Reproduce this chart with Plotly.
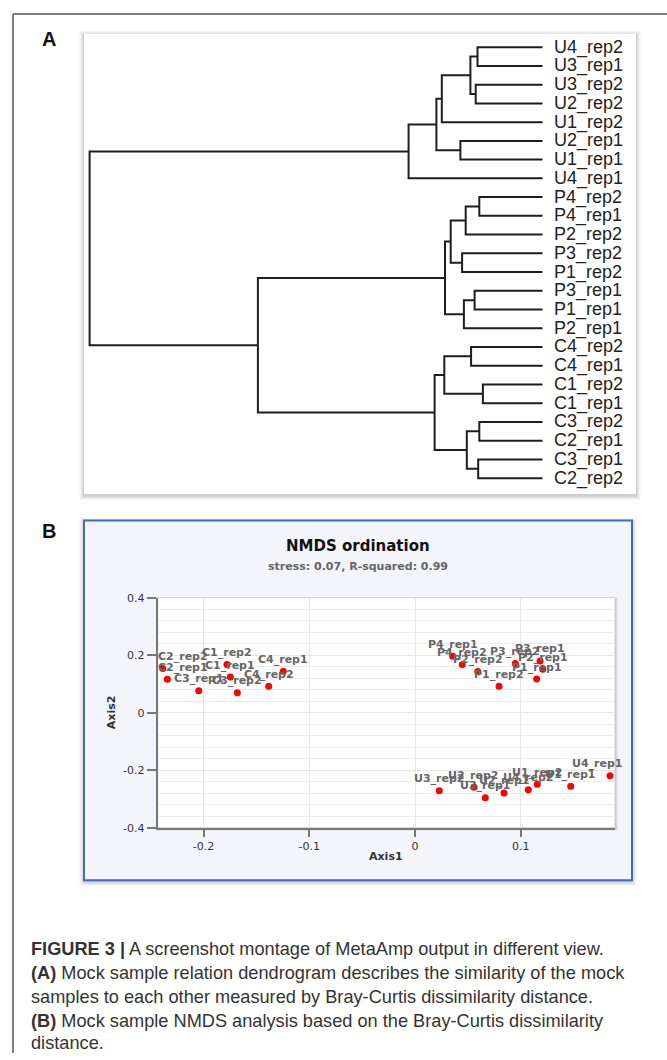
import plotly.graph_objects as go

# ---------------- Data ----------------
# Dendrogram (panel A): leaves top-to-bottom and merge steps (left child, right child, height)
leaf_order = ["U4_rep2", "U3_rep1", "U3_rep2", "U2_rep2", "U1_rep2", "U2_rep1", "U1_rep1", "U4_rep1",
              "P4_rep2", "P4_rep1", "P2_rep2", "P3_rep2", "P1_rep2", "P3_rep1", "P1_rep1", "P2_rep1",
              "C4_rep2", "C4_rep1", "C1_rep2", "C1_rep1", "C3_rep2", "C2_rep1", "C3_rep1", "C2_rep2"]
merge_left = ["U4_rep2", "U3_rep2", "m0", "m2", "U2_rep1", "m3", "m5",
              "P4_rep2", "m7", "P3_rep2", "m8", "P3_rep1", "m11", "m10",
              "C4_rep2", "C1_rep2", "m14", "C3_rep2", "C3_rep1", "m17", "m16",
              "m13", "m6"]
merge_right = ["U3_rep1", "U2_rep2", "m1", "U1_rep2", "U1_rep1", "m4", "U4_rep1",
               "P4_rep1", "P2_rep2", "P1_rep2", "m9", "P1_rep1", "P2_rep1", "m12",
               "C4_rep1", "C1_rep1", "m15", "C2_rep1", "C2_rep2", "m18", "m19",
               "m20", "m21"]
merge_height = [0.1435, 0.1475, 0.1592, 0.2223, 0.1813, 0.2343, 0.2957,
                0.1395, 0.1696, 0.1775, 0.2027, 0.1499, 0.1736, 0.2153,
                0.1577, 0.1316, 0.2168, 0.1395, 0.1420, 0.1671, 0.2382,
                0.6284, 1.0]

# NMDS (panel B)
nmds_samples = ["C2_rep2", "C2_rep1", "C3_rep1", "C1_rep2", "C1_rep1", "C3_rep2", "C4_rep2", "C4_rep1",
                "P4_rep1", "P4_rep2", "P2_rep2", "P1_rep2", "P3_rep2", "P3_rep1", "P2_rep1", "P1_rep1",
                "U3_rep2", "U2_rep2", "U3_rep1", "U2_rep1", "U4_rep2", "U1_rep2", "U1_rep1", "U4_rep1"]
nmds_axis1 = [-0.2387, -0.2343, -0.2046, -0.1779, -0.1747, -0.1681, -0.1384, -0.1246,
              0.0357, 0.0447, 0.0593, 0.0795, 0.0949, 0.1183, 0.1208, 0.1151,
              0.0230, 0.0558, 0.0665, 0.0842, 0.1072, 0.1157, 0.1473, 0.1845]
nmds_axis2 = [0.154, 0.116, 0.076, 0.168, 0.124, 0.069, 0.092, 0.144,
              0.196, 0.1675, 0.1436, 0.092, 0.171, 0.180, 0.151, 0.117,
              -0.271, -0.259, -0.296, -0.279, -0.268, -0.2486, -0.2557, -0.219]
# horizontal label nudges (labels kept inside the plot area, as in the original)
label_dx = [20, 16] + [0] * 21 + [-13]

x_ticks = [-0.2, -0.1, 0, 0.1]
x_tick_text = ["-0.2", "-0.1", "0", "0.1"]
y_ticks = [-0.4, -0.2, 0, 0.2, 0.4]
y_tick_text = ["-0.4", "-0.2", "0", "0.2", "0.4"]

caption_lines = [
    "<b>FIGURE 3 |</b> A screenshot montage of MetaAmp output in different view.",
    "<b>(A)</b> Mock sample relation dendrogram describes the similarity of the mock",
    "samples to each other measured by Bray-Curtis dissimilarity distance.",
    "<b>(B)</b> Mock sample NMDS analysis based on the Bray-Curtis dissimilarity",
    "distance.",
]

# ---------------- Layout helpers ----------------
W, H = 667, 1060
def px(x):
    return x / W
def py(y):
    return 1 - y / H

fig = go.Figure()

# ---- dendrogram geometry from merges ----
node_y = {name: i for i, name in enumerate(leaf_order)}
node_h = {name: 0.0 for name in leaf_order}
dx, dy = [], []
for k, (a, b, h) in enumerate(zip(merge_left, merge_right, merge_height)):
    ya, yb = node_y[a], node_y[b]
    dx += [node_h[a], h, h, node_h[b], None]
    dy += [ya, ya, yb, yb, None]
    node_y["m%d" % k] = (ya + yb) / 2
    node_h["m%d" % k] = h

fig.add_trace(go.Scatter(x=dx, y=dy, mode="lines", line=dict(color="#1e1e1e", width=2),
                         hoverinfo="skip", showlegend=False, xaxis="x", yaxis="y"))

annotations = []
for i, name in enumerate(leaf_order):
    annotations.append(dict(x=0, y=i, xref="x", yref="y", text=name, showarrow=False,
                            xanchor="left", yanchor="middle", xshift=9,
                            font=dict(family="Liberation Sans", size=18, color="#222")))

# ---- NMDS scatter ----
fig.add_trace(go.Scatter(x=nmds_axis1, y=nmds_axis2, mode="markers", cliponaxis=False,
                         marker=dict(color="#ff0000", size=7),
                         hoverinfo="skip", showlegend=False, xaxis="x2", yaxis="y2"))
for name, xv, yv, sh in zip(nmds_samples, nmds_axis1, nmds_axis2, label_dx):
    annotations.append(dict(x=xv, y=yv, xref="x2", yref="y2", text="<b>%s</b>" % name, showarrow=False,
                            xanchor="center", yanchor="middle", xshift=sh, yshift=12,
                            font=dict(family="DejaVu Sans", size=11, color="#666666")))

shapes = []
# page frame (top and left lines)
shapes.append(dict(type="line", xref="paper", yref="paper", x0=px(13), x1=px(667), y0=py(8), y1=py(8),
                   line=dict(color="#555", width=1.5)))
shapes.append(dict(type="line", xref="paper", yref="paper", x0=px(13), x1=px(13), y0=py(8), y1=py(1060),
                   line=dict(color="#555", width=1.5)))

def shadow_box(x0, y0, x1, y1):
    out = []
    for k, a in [(5, 0.02), (4, 0.03), (3, 0.04), (2, 0.05), (1, 0.06)]:
        out.append(dict(type="rect", xref="paper", yref="paper", layer="below",
                        x0=px(x0 - k), x1=px(x1 + k), y0=py(y1 + k + 1.5), y1=py(y0 - k + 1.5),
                        fillcolor="rgba(0,0,0,%g)" % a, line=dict(width=0)))
    return out

# panel A box
shapes += shadow_box(84, 28, 636, 494)
shapes.append(dict(type="rect", xref="paper", yref="paper", layer="below",
                   x0=px(84), x1=px(636), y0=py(494), y1=py(28),
                   fillcolor="white", line=dict(width=0)))
# panel B box
shapes += shadow_box(84, 521, 632, 885)
shapes.append(dict(type="rect", xref="paper", yref="paper", layer="below",
                   x0=px(84), x1=px(632), y0=py(885), y1=py(521),
                   fillcolor="#f4f5fb", line=dict(color="#3d6cc2", width=2)))
# plot area of B with shadow
for k, a in [(3, 0.05), (2, 0.07), (1, 0.09)]:
    shapes.append(dict(type="rect", xref="x2 domain", yref="y2 domain", layer="below",
                       x0=0, x1=1.0 + k / 457.0, y0=0 - k / 233.0, y1=1.0,
                       fillcolor="rgba(0,0,0,%g)" % a, line=dict(width=0)))
shapes.append(dict(type="rect", xref="x2 domain", yref="y2 domain", layer="below",
                   x0=0, x1=1, y0=0, y1=1, fillcolor="white", line=dict(color="#cfcfcf", width=1)))

def label(x, y, text, size, color, family="DejaVu Sans", angle=0, xanchor="center"):
    return dict(x=px(x), y=py(y), xref="paper", yref="paper", text=text, showarrow=False,
                xanchor=xanchor, yanchor="middle", textangle=angle,
                font=dict(family=family, size=size, color=color))

annotations += [
    label(49, 33, "<b>A</b>", 20, "#111", "Liberation Sans"),
    label(49, 532, "<b>B</b>", 20, "#111", "Liberation Sans"),
    label(358, 547, "<b>NMDS ordination</b>", 15, "#111"),
    label(358, 567, "<b>stress: 0.07, R-squared: 0.99</b>", 11, "#666"),
    label(386, 861, "<b>Axis1</b>", 11, "#333"),
    label(111, 715, "<b>Axis2</b>", 11, "#333", angle=-90),
]
for line, yy in zip(caption_lines, [955, 979.5, 1003.5, 1027.5, 1050]):
    annotations.append(label(29, yy, line, 18.2, "#333", "Liberation Sans", xanchor="left"))

fig.update_layout(
    width=W, height=H, autosize=False,
    margin=dict(l=0, r=0, t=0, b=0),
    paper_bgcolor="white", plot_bgcolor="rgba(0,0,0,0)",
    shapes=shapes, annotations=annotations,
    xaxis=dict(domain=[px(84), px(636)], range=[(542.5 - 84) / 452.9, (542.5 - 636) / 452.9],
               visible=False, fixedrange=True),
    yaxis=dict(domain=[py(494), py(28)], range=[(494 - 41.7) / 18.97, (28 - 41.7) / 18.97],
               visible=False, fixedrange=True),
    xaxis2=dict(domain=[px(157.7), px(615)], range=[(157.7 - 415) / 1057, (615 - 415) / 1057],
                anchor="y2", tickmode="array", tickvals=x_ticks, ticktext=x_tick_text,
                showgrid=True, gridcolor="#e6e6e6", gridwidth=1, zeroline=False,
                showline=True, linecolor="#777", linewidth=2,
                ticks="outside", ticklen=7, tickcolor="#777", tickwidth=1.5,
                tickfont=dict(family="DejaVu Sans", size=11, color="#333")),
    yaxis2=dict(domain=[py(832), py(599)], range=[-0.4, 0.4],
                anchor="x2", tickmode="array", tickvals=y_ticks, ticktext=y_tick_text,
                showgrid=True, gridcolor="#e6e6e6", gridwidth=1, zeroline=False,
                minor=dict(tickmode="linear", tick0=0, dtick=0.04, showgrid=True,
                           gridcolor="#ececec", gridwidth=1, ticks=""),
                showline=True, linecolor="#777", linewidth=2,
                ticks="outside", ticklen=9, tickcolor="#777", tickwidth=1.5,
                tickfont=dict(family="DejaVu Sans", size=11, color="#333")),
)

fig.write_html("out.html", config={"displayModeBar": False},
               post_script="document.body.style.margin='0';")
